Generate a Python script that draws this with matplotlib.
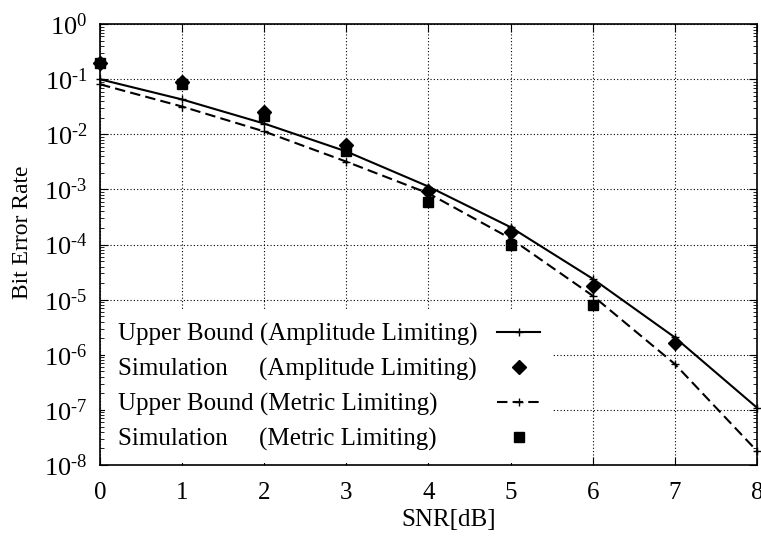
import matplotlib
matplotlib.use("Agg")
import matplotlib.pyplot as plt
from matplotlib.ticker import LogLocator, NullFormatter, FuncFormatter
import numpy as np

plt.rcParams['font.family'] = ['Liberation Serif', 'DejaVu Serif']
plt.rcParams['mathtext.fontset'] = 'custom'
plt.rcParams['mathtext.rm'] = 'Liberation Serif'
plt.rcParams['mathtext.it'] = 'Liberation Serif:italic'
plt.rcParams['mathtext.bf'] = 'Liberation Serif:bold'

snr = [0, 1, 2, 3, 4, 5, 6, 7, 8]
bound_amp = [0.1, 0.043, 0.0157, 0.0049, 1.13e-3, 2.07e-4, 2.4e-5, 2.07e-6, 1.1e-7]
bound_met = [0.081, 0.032, 0.0113, 0.0032, 8.5e-4, 1.29e-4, 1.18e-5, 6.8e-7, 1.8e-8]

sim_amp_snr = [0, 1, 2, 3, 4, 5, 6, 7]
sim_amp = [0.2, 0.089, 0.026, 0.0063, 9.3e-4, 1.67e-4, 1.8e-5, 1.67e-6]
sim_met_snr = [0, 1, 2, 3, 4, 5, 6]
sim_met = [0.2, 0.081, 0.022, 0.005, 5.9e-4, 1.0e-4, 8.1e-6]

labels = ['Upper Bound (Amplitude Limiting)',
          'Simulation     (Amplitude Limiting)',
          'Upper Bound (Metric Limiting)',
          'Simulation     (Metric Limiting)']

fig = plt.figure(figsize=(7.61, 5.37), dpi=100)
ax = fig.add_axes([0.1314, 0.134, 0.8633, 0.821])

ax.plot(snr, bound_amp, color='black', lw=1.5, marker='+', ms=6, mew=1,
        clip_on=False, label=labels[0])
ax.plot(sim_amp_snr, sim_amp, ls='none', color='black', marker='D', ms=7.5,
        clip_on=False, label=labels[1])
ax.plot(snr, bound_met, color='black', lw=1.5, ls=(0, (5, 2.5)), marker='+', ms=6, mew=1,
        clip_on=False, label=labels[2])
ax.plot(sim_met_snr, sim_met, ls='none', color='black', marker='s', ms=7,
        clip_on=False, label=labels[3])

ax.set_yscale('log')
ax.set_xlim(0, 8)
ax.set_ylim(1e-8, 1)
ax.set_xticks(snr)
ax.yaxis.set_major_locator(LogLocator(base=10, numticks=20))
ax.yaxis.set_minor_locator(LogLocator(base=10, subs=(2, 3, 4, 5, 6, 7, 8, 9), numticks=20))
ax.yaxis.set_minor_formatter(NullFormatter())


def sci(v, pos):
    e = int(round(np.log10(v)))
    if e < 0:
        return '$10^{\u2010%d}$' % (-e)
    return '$10^{%d}$' % e


ax.yaxis.set_major_formatter(FuncFormatter(sci))

ax.grid(True, which='major', ls=(0, (1, 2)), color='black', lw=0.8)
ax.tick_params(which='both', direction='in', top=True, right=True)
ax.tick_params(which='major', length=6)
ax.tick_params(axis='y', pad=9, labelsize=19)
ax.tick_params(axis='x', pad=12, labelsize=18)
ax.tick_params(which='minor', length=3)
for s in ax.spines.values():
    s.set_linewidth(1.2)

ax.set_xlabel('SNR[dB]', fontsize=18)
ax.set_ylabel('Bit Error Rate', fontsize=17)
ax.xaxis.set_label_coords(0.53, -0.1)
ax.yaxis.set_label_coords(-0.102, 0.528)

leg = ax.legend(loc='lower left', markerfirst=False, fontsize=18, frameon=True,
                fancybox=False, edgecolor='none', framealpha=1,
                handlelength=1.7, labelspacing=0.47, borderaxespad=0.0,
                borderpad=0.5, handletextpad=0.8, bbox_to_anchor=(0.008, 0.004))

# left-align the labels while keeping the handles in one column
fig.canvas.draw()
r = fig.canvas.get_renderer()
widths = [t.get_window_extent(r).width for t in leg.get_texts()]
items = leg._legend_handle_box.get_children()[0].get_children()
for item, w in zip(items, widths):
    item.sep = item.sep + (max(widths) - w) * 72 / fig.dpi

fig.savefig('out.png', dpi=100)
